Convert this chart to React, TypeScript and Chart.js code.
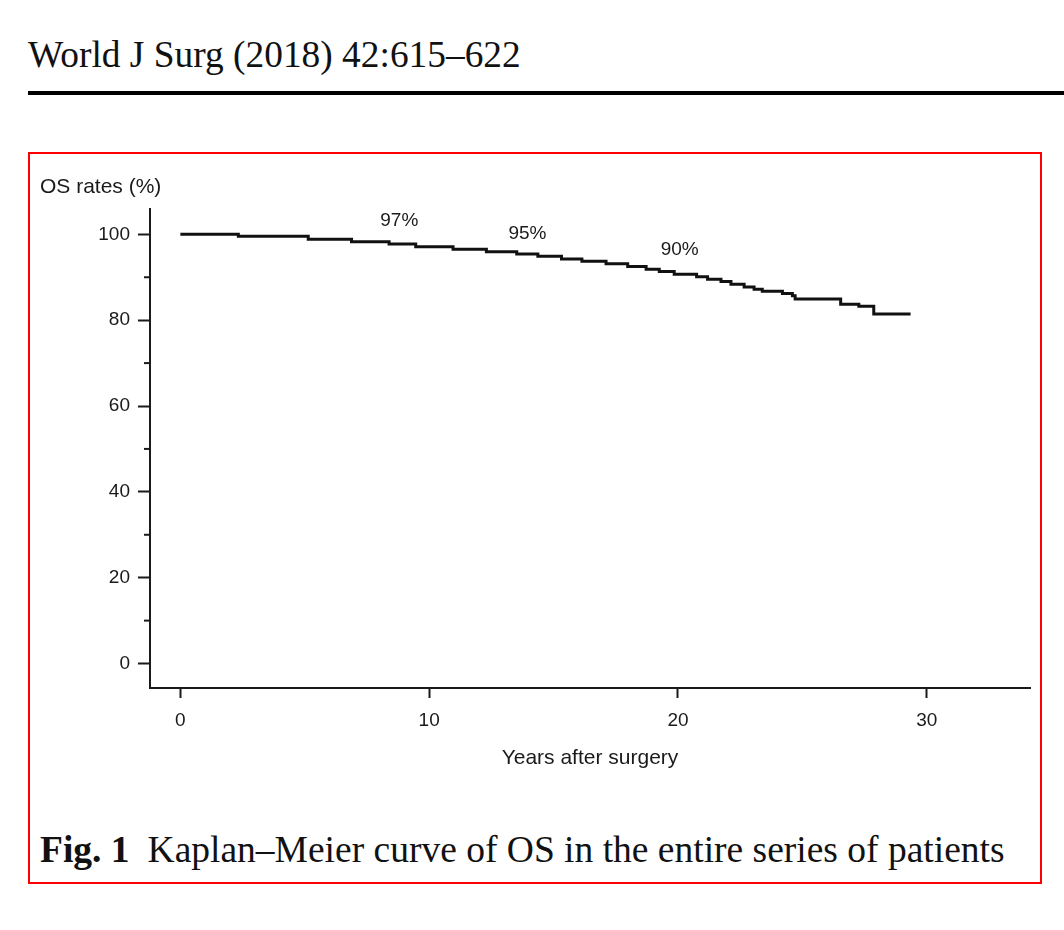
import React, { useEffect, useRef } from 'react';
import { Chart, registerables } from 'chart.js';

Chart.register(...registerables);

// Kaplan–Meier step data (years after surgery, OS %)
const eventTimes = [0, 2.33, 5.14, 6.88, 8.39, 9.46, 10.96, 12.3, 13.52, 14.37, 15.32, 16.14, 17.11, 17.98, 18.72, 19.25, 19.85, 20.75, 21.19, 21.73, 22.13, 22.66, 23.06, 23.39, 24.2, 24.6, 24.71, 26.54, 27.27, 27.87, 29.35];
const survival = [100, 99.53, 98.84, 98.28, 97.75, 97.12, 96.51, 95.96, 95.42, 94.89, 94.26, 93.72, 93.17, 92.5, 91.86, 91.31, 90.7, 90.14, 89.54, 88.98, 88.38, 87.75, 87.22, 86.75, 86.19, 85.66, 84.96, 83.73, 83.26, 81.41, 81.41];

const yTicks = [0, 20, 40, 60, 80, 100];
const yMinorTicks = [10, 30, 50, 70, 90];
const xTicks = [0, 10, 20, 30];

const labelTimes = [8.8, 13.95, 20.07];
const labelValues = [103.2, 100.2, 96.45];
const labelTexts = ['97%', '95%', '90%'];

const INK = '#1a1a1a';
const SANS = '"Liberation Sans", Arial, Helvetica, sans-serif';
const SERIF = '"Liberation Serif", "Times New Roman", Times, serif';

const extrasPlugin = {
  id: 'kmExtras',
  afterDraw(chart: any) {
    const ctx = chart.ctx;
    const xs = chart.scales.x;
    const ys = chart.scales.y;
    ctx.save();
    // minor ticks on y axis
    ctx.strokeStyle = INK;
    ctx.lineWidth = 2;
    yMinorTicks.forEach((v) => {
      const py = ys.getPixelForValue(v);
      ctx.beginPath();
      ctx.moveTo(chart.chartArea.left - 6, py);
      ctx.lineTo(chart.chartArea.left, py);
      ctx.stroke();
    });
    // percent annotations
    ctx.fillStyle = INK;
    ctx.font = `19px ${SANS}`;
    ctx.textAlign = 'center';
    ctx.textBaseline = 'middle';
    labelTexts.forEach((t, i) => {
      ctx.fillText(t, xs.getPixelForValue(labelTimes[i]), ys.getPixelForValue(labelValues[i]));
    });
    ctx.restore();
  },
};

function KMChart() {
  const ref = useRef<HTMLCanvasElement | null>(null);
  useEffect(() => {
    if (!ref.current) return;
    const chart = new Chart(ref.current, {
      type: 'line',
      data: {
        datasets: [
          {
            data: eventTimes.map((t, i) => ({ x: t, y: survival[i] })),
            borderColor: '#111',
            borderWidth: 3,
            pointRadius: 0,
            stepped: 'before',
            fill: false,
            borderCapStyle: 'butt',
            borderJoinStyle: 'miter',
          } as any,
        ],
      },
      options: {
        animation: false,
        responsive: false,
        maintainAspectRatio: false,
        layout: { padding: { left: 0, right: 10, top: 0, bottom: 0 } },
        plugins: {
          legend: { display: false },
          tooltip: { enabled: false },
          title: {
            display: true,
            text: 'OS rates (%)',
            align: 'start',
            color: INK,
            font: { family: SANS, size: 21, weight: 'normal' as any },
            padding: { top: 9.9, bottom: 8.9 },
          },
        },
        scales: {
          x: {
            type: 'linear',
            min: -1.22,
            max: 34.15,
            afterBuildTicks: (s: any) => {
              s.ticks = xTicks.map((v) => ({ value: v }));
            },
            afterFit: (s: any) => {
              s.height = 92;
            },
            grid: {
              display: true,
              drawOnChartArea: false,
              drawTicks: true,
              tickLength: 10,
              tickColor: INK,
              tickWidth: 2,
            },
            border: { display: true, color: INK, width: 2 },
            ticks: {
              color: INK,
              font: { family: SANS, size: 19 },
              padding: 11,
              maxRotation: 0,
            },
            title: {
              display: true,
              text: 'Years after surgery',
              color: INK,
              font: { family: SANS, size: 21 },
              padding: { top: 0, bottom: 9 },
            },
          },
          y: {
            type: 'linear',
            min: -5.7,
            max: 105.9,
            afterBuildTicks: (s: any) => {
              s.ticks = yTicks.map((v) => ({ value: v }));
            },
            afterFit: (s: any) => {
              s.width = 110;
            },
            grid: {
              display: true,
              drawOnChartArea: false,
              drawTicks: true,
              tickLength: 12,
              tickColor: INK,
              tickWidth: 2,
            },
            border: { display: true, color: INK, width: 2 },
            ticks: {
              color: INK,
              font: { family: SANS, size: 19 },
              padding: 8,
            },
          },
        },
      },
      plugins: [extrasPlugin],
    });
    return () => chart.destroy();
  }, []);
  return (
    <canvas
      ref={ref}
      width={1000}
      height={615}
      style={{ position: 'absolute', left: 40, top: 165, width: 1000, height: 615 }}
    />
  );
}

export default function App() {
  return (
    <div style={{ position: 'absolute', left: 0, top: 0, width: 1064, height: 930, background: '#fff', overflow: 'hidden' }}>
      <div
        style={{
          position: 'absolute',
          left: 28,
          top: 36,
          fontFamily: SERIF,
          fontSize: 37.4,
          lineHeight: 1,
          color: '#111',
          whiteSpace: 'nowrap',
        }}
      >
        World J Surg (2018) 42:615–622
      </div>
      <div style={{ position: 'absolute', left: 28, top: 91, width: 1036, height: 4, background: '#000' }} />
      <div
        style={{
          position: 'absolute',
          left: 28,
          top: 152,
          width: 1014,
          height: 732,
          border: '2px solid #ff0000',
          boxSizing: 'border-box',
        }}
      />
      <KMChart />
      <div
        style={{
          position: 'absolute',
          left: 40,
          top: 831,
          fontFamily: SERIF,
          fontSize: 37.5,
          lineHeight: 1,
          color: '#111',
          whiteSpace: 'nowrap',
        }}
      >
        <b>Fig. 1</b>
        <span style={{ marginLeft: 18 }}>Kaplan–Meier curve of OS in the entire series of patients</span>
      </div>
    </div>
  );
}
